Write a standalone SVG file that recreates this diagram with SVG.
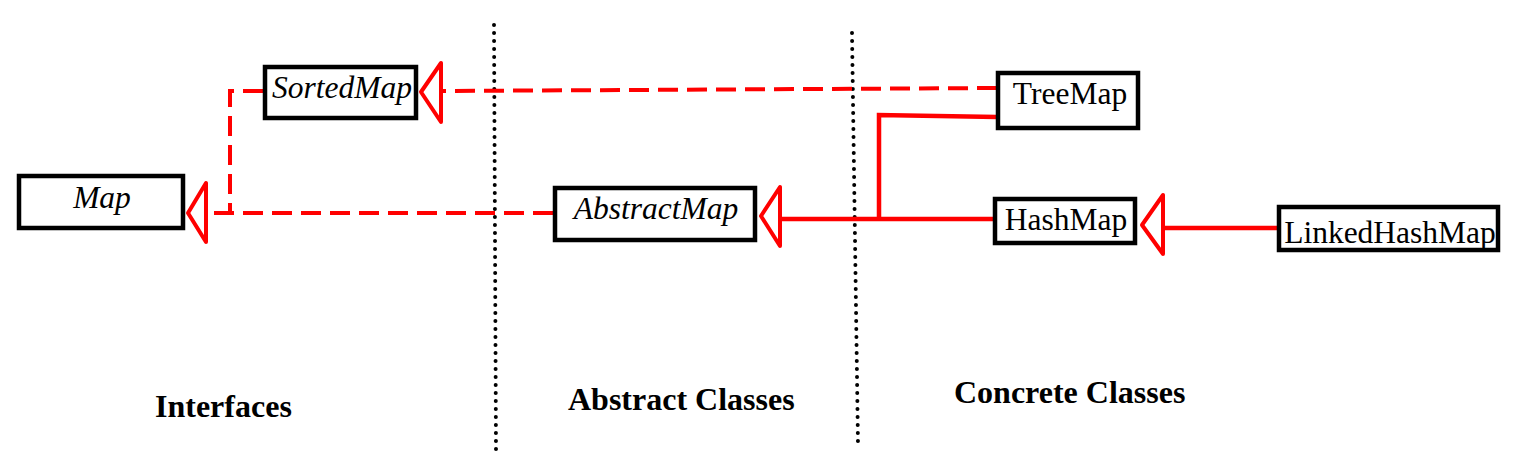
<svg xmlns="http://www.w3.org/2000/svg" width="1540" height="470" viewBox="0 0 1540 470">
<style>
.box{fill:#fff;stroke:#000;stroke-width:4.5}
.t{font-family:"Liberation Serif","Times New Roman",serif;font-size:31.5px;fill:#000;text-anchor:middle}
.i{font-style:italic}
.lbl{font-family:"Liberation Serif","Times New Roman",serif;font-size:32px;font-weight:bold;fill:#000}
.sol{fill:none;stroke:#f00;stroke-width:4.5}
.dash{fill:none;stroke:#f00;stroke-width:4;stroke-dasharray:20 9}
.head{fill:#fff;stroke:#f00;stroke-width:4;stroke-linejoin:round}
.div{stroke:#000;stroke-width:4;stroke-linecap:round;stroke-dasharray:0 8}
</style>
<rect width="1540" height="470" fill="#fff"/>
<g id="dividers">
<line class="div" x1="494" y1="25" x2="496" y2="453"/>
<line class="div" x1="852" y1="33" x2="858" y2="445"/>
</g>
<g id="connectors">
<path class="dash" d="M997,88 L441,91"/>
<path class="dash" d="M263,91 H230 V213"/>
<path class="dash" d="M553,213 H206"/>
<path class="sol" d="M993,219 H780"/>
<path class="sol" d="M879,219 V115 L997,117"/>
<path class="sol" d="M1277,228 H1163"/>
<polygon class="head" points="188,213 206,183 206,242"/>
<polygon class="head" points="421,92 441,63 441,122"/>
<polygon class="head" points="761,216 780,187 780,246"/>
<polygon class="head" points="1142,225 1163,195 1163,254"/>
</g>
<g id="SortedMap">
<rect class="box" x="265" y="67" width="151" height="51"/>
<text class="t i" x="342" y="98">SortedMap</text>
</g>
<g id="Map">
<rect class="box" x="19" y="176" width="164" height="52"/>
<text class="t i" x="102" y="208">Map</text>
</g>
<g id="AbstractMap">
<rect class="box" x="555" y="188" width="200" height="52"/>
<text class="t i" x="656" y="219">AbstractMap</text>
</g>
<g id="TreeMap">
<rect class="box" x="998" y="73" width="140" height="55"/>
<text class="t" x="1070" y="104">TreeMap</text>
</g>
<g id="HashMap">
<rect class="box" x="995" y="199" width="140" height="44"/>
<text class="t" x="1066" y="230">HashMap</text>
</g>
<g id="LinkedHashMap">
<rect class="box" x="1279" y="207" width="219" height="43"/>
<text class="t" x="1390" y="243" font-size="29">LinkedHashMap</text>
</g>
<g id="labels">
<text class="lbl" x="155" y="417">Interfaces</text>
<text class="lbl" x="568" y="410">Abstract Classes</text>
<text class="lbl" x="954" y="403">Concrete Classes</text>
</g>
</svg>
